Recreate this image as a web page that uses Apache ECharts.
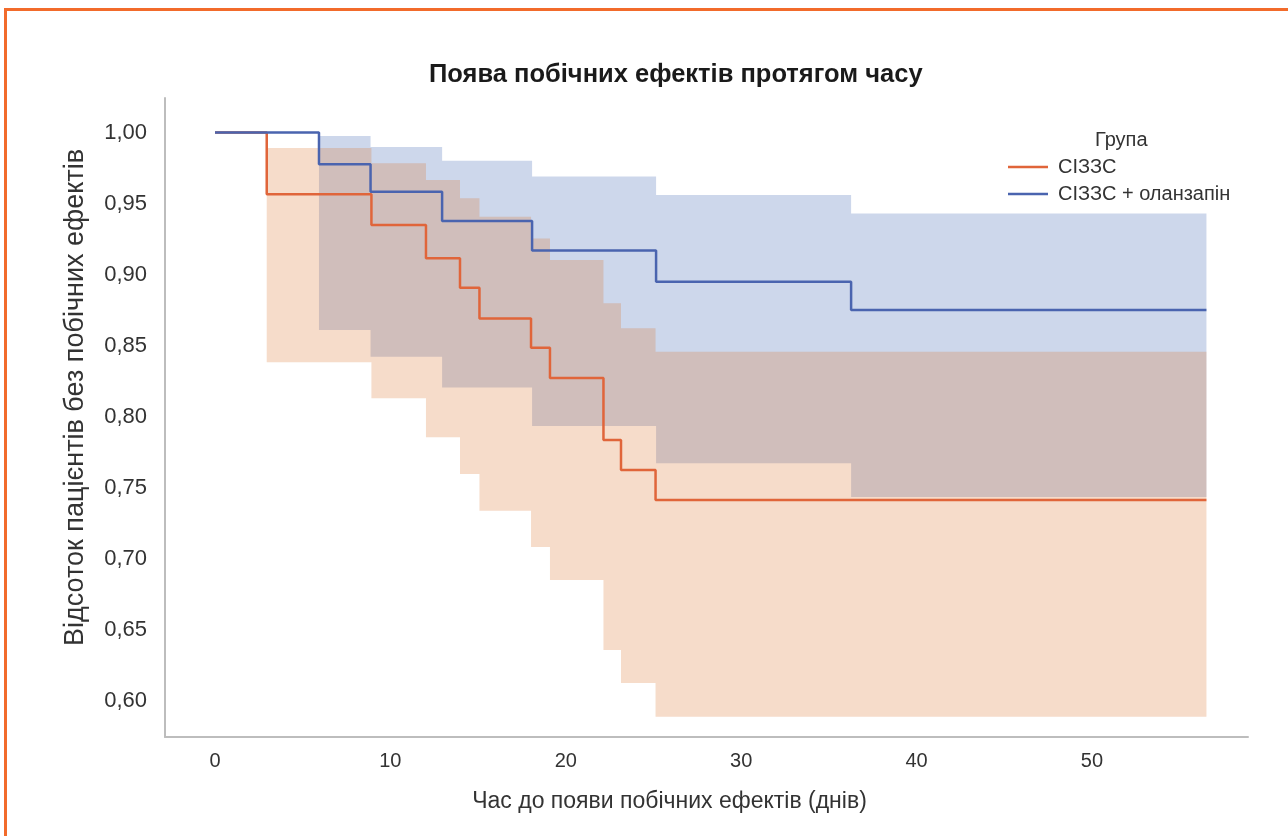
<!DOCTYPE html>
<html>
<head>
<meta charset="utf-8">
<script src="https://cdn.jsdelivr.net/npm/echarts@6/dist/echarts.min.js"></script>
<style>
  html, body { margin: 0; padding: 0; background: #ffffff; }
  #chart { width: 1288px; height: 836px; }
</style>
</head>
<body>
<div id="chart"></div>
<script>
// ---- Data ----
const seriesNames = ['СІЗЗС', 'СІЗЗС + оланзапін'];

// СІЗЗС group (orange)
const orangeTimes = [0, 2.95, 8.92, 12.03, 13.97, 15.08, 18.02, 19.1, 22.15, 23.15, 25.12, 56.53];
const orangeSurv  = [1.0, 0.9565, 0.9349, 0.9115, 0.8908, 0.8692, 0.8486, 0.8272, 0.7836, 0.7625, 0.7414, 0.7414];
const orangeUpper = [1.0, 0.9891, 0.9783, 0.9666, 0.9537, 0.9407, 0.9255, 0.9103, 0.8798, 0.8622, 0.8457, 0.8457];
const orangeLower = [1.0, 0.8383, 0.8130, 0.7855, 0.7597, 0.7338, 0.7083, 0.6851, 0.6358, 0.6126, 0.5888, 0.5888];

// СІЗЗС + оланзапін group (blue)
const blueTimes = [0, 5.93, 8.87, 12.95, 18.08, 25.15, 36.27, 56.53];
const blueSurv  = [1.0, 0.9776, 0.9583, 0.9377, 0.9169, 0.8950, 0.8751, 0.8751];
const blueUpper = [1.0, 0.9975, 0.9899, 0.9802, 0.9690, 0.9560, 0.9431, 0.9431];
const blueLower = [1.0, 0.8610, 0.8422, 0.8205, 0.7935, 0.7672, 0.7435, 0.7435];

const xTicks = [0, 10, 20, 30, 40, 50];
const yTicks = [0.60, 0.65, 0.70, 0.75, 0.80, 0.85, 0.90, 0.95, 1.00];

// ---- Helpers building library data from the arrays ----
const pairs = (ts, vs) => ts.map((t, i) => [t, vs[i]]);

const FONT = '"Liberation Sans", Arial, Helvetica, sans-serif';
const chart = echarts.init(document.getElementById('chart'), null, { renderer: 'canvas' });

// Step-shaped confidence band drawn as a polygon through the axis scales
function bandSeries(id, ts, up, lo, color) {
  return {
    id, type: 'custom', silent: true, z: 1,
    data: [[ts[0], up[0]]],
    encode: { x: 0, y: 1 },
    renderItem: function (params, api) {
      const pts = [];
      for (let i = 0; i < ts.length; i++) {
        if (i > 0) pts.push(api.coord([ts[i], up[i - 1]]));
        pts.push(api.coord([ts[i], up[i]]));
      }
      for (let i = ts.length - 1; i >= 0; i--) {
        pts.push(api.coord([ts[i], lo[i]]));
        if (i > 0) pts.push(api.coord([ts[i], lo[i - 1]]));
      }
      return {
        type: 'polygon',
        shape: { points: pts },
        style: { fill: color, stroke: null }
      };
    }
  };
}

chart.setOption({
  animation: false,
  backgroundColor: '#ffffff',
  textStyle: { fontFamily: FONT },
  graphic: [{
    type: 'rect', z: -10, silent: true,
    shape: { x: 5.5, y: 9.5, width: 1400, height: 1000 },
    style: { fill: 'none', stroke: '#F26B2B', lineWidth: 3 }
  }],
  title: [{
    text: 'Поява побічних ефектів протягом часу',
    left: 424, top: 57,
    textStyle: { fontFamily: FONT, fontSize: 25.5, fontWeight: 'bold', color: '#1a1a1a' }
  }, {
    text: 'Група',
    left: 1090, top: 125,
    textStyle: { fontFamily: FONT, fontSize: 20, fontWeight: 'normal', color: '#333333' }
  }],
  legend: {
    data: seriesNames,
    orient: 'vertical',
    left: 1003, top: 151,
    itemWidth: 40, itemHeight: 2.5,
    itemGap: 5,
    icon: 'rect',
    textStyle: { fontFamily: FONT, fontSize: 20, color: '#333333', lineHeight: 22, padding: [0, 0, 0, 5] }
  },
  grid: { left: 165, right: 40, top: 98, bottom: 99 },
  xAxis: {
    type: 'value',
    min: -2.85, max: 58.9,
    name: 'Час до появи побічних ефектів (днів)',
    nameLocation: 'middle', nameGap: 53,
    nameTextStyle: { fontFamily: FONT, fontSize: 23, color: '#333333', padding: [0, 74, 0, 0] },
    axisLine: { show: true, onZero: false, lineStyle: { color: '#bdbdbd', width: 2 } },
    axisTick: { show: false, customValues: xTicks },
    splitLine: { show: false },
    axisLabel: {
      customValues: xTicks, margin: 14,
      fontFamily: FONT, fontSize: 20, color: '#333333',
      formatter: v => String(v)
    }
  },
  yAxis: {
    type: 'value',
    min: 0.5746, max: 1.0243,
    name: 'Відсоток пацієнтів без побічних ефектів',
    nameLocation: 'middle', nameGap: 76,
    nameTextStyle: { fontFamily: FONT, fontSize: 27, color: '#333333', padding: [0, 0, 0, 40] },
    axisLine: { show: true, onZero: false, lineStyle: { color: '#bdbdbd', width: 2 } },
    axisTick: { show: false, customValues: yTicks },
    splitLine: { show: false },
    axisLabel: {
      customValues: yTicks, margin: 18,
      fontFamily: FONT, fontSize: 22, color: '#333333',
      formatter: v => v.toFixed(2).replace('.', ',')
    }
  },
  series: [
    bandSeries('blueCI', blueTimes, blueUpper, blueLower, 'rgba(55,95,175,0.25)'),
    bandSeries('orangeCI', orangeTimes, orangeUpper, orangeLower, 'rgba(219,115,43,0.25)'),
    {
      name: seriesNames[0], type: 'line', step: 'end',
      data: pairs(orangeTimes, orangeSurv),
      symbol: 'none', color: '#E0653A',
      lineStyle: { color: '#E0653A', width: 2.5 }, z: 3
    },
    {
      name: seriesNames[1], type: 'line', step: 'end',
      data: pairs(blueTimes, blueSurv),
      symbol: 'none', color: '#4A64AF',
      lineStyle: { color: '#4A64AF', width: 2.5 }, z: 4
    }
  ]
});
</script>
</body>
</html>
